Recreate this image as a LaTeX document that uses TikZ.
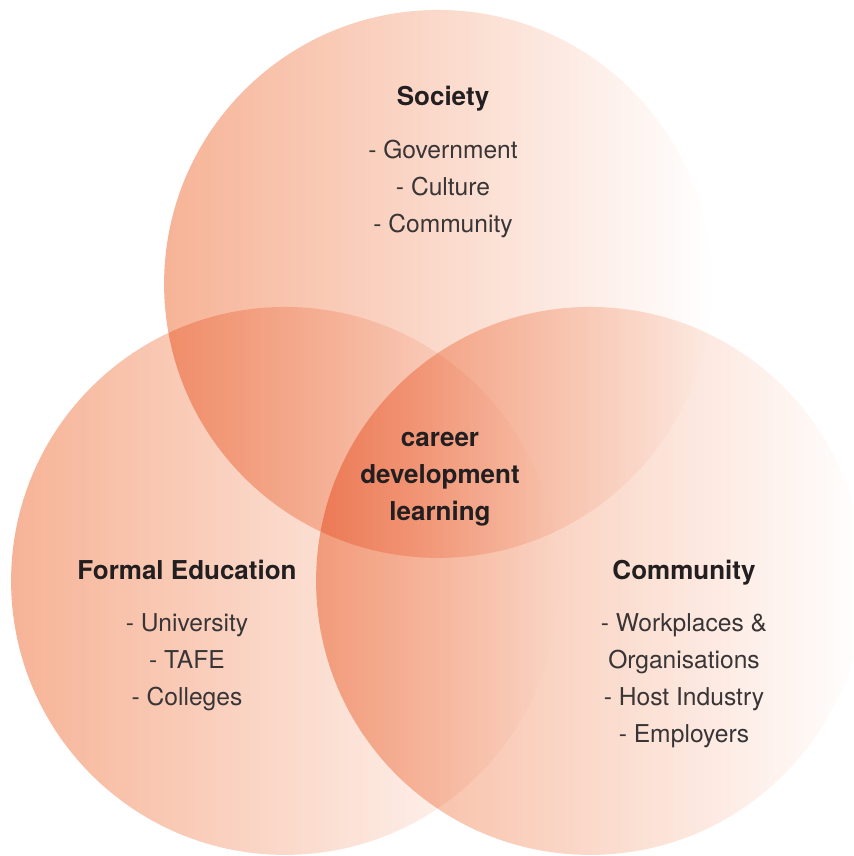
\documentclass[tikz,border=0pt]{standalone}
\usepackage{fontspec}
\setmainfont{TeX Gyre Heros}
\usetikzlibrary{positioning, fadings}

\definecolor{salmon}{HTML}{F07C4A}
\definecolor{ink}{HTML}{231F20}
\tikzfading[name=faderight, left color=transparent!42, right color=transparent!100]

\begin{document}
\begin{tikzpicture}[x=0.02cm, y=-0.02cm, node distance=0.59cm]
    \tikzstyle{ring} = [fill=salmon, path fading=faderight]
    \tikzstyle{heading} = [inner sep=0pt, text=ink, font=\fontsize{14.8}{21}\selectfont\bfseries, align=center]
    \tikzstyle{title} = [heading, text height=0.75em, text depth=0.25em]
    \tikzstyle{items} = [inner sep=0pt, text=ink!90, font=\fontsize{14}{21}\selectfont, align=center]

    \useasboundingbox (0,0) rectangle (853,856);
    \clip (0,0) rectangle (853,856);

    % the three circles
    \begin{scope}[blend group=multiply]
        \fill [ring] (438,284) circle [radius=5.48cm];
        \fill [ring] (285,581) circle [radius=5.48cm];
        \fill [ring] (590,581) circle [radius=5.48cm];
    \end{scope}

    \node (society) [title] at (443,101) {Society};
    \node (societylist) [items, below=of society] {- Government\\- Culture\\- Community};

    \node (formal) [title] at (187,575) {Formal Education};
    \node (formallist) [items, below=of formal] {- University\\- TAFE\\- Colleges};

    \node (community) [title] at (684,575) {Community};
    \node (communitylist) [items, below=of community] {- Workplaces \&\\Organisations\\- Host Industry\\- Employers};

    \node (cdl) [heading] at (440,479) {career\\development\\learning};

\end{tikzpicture}
\end{document}
